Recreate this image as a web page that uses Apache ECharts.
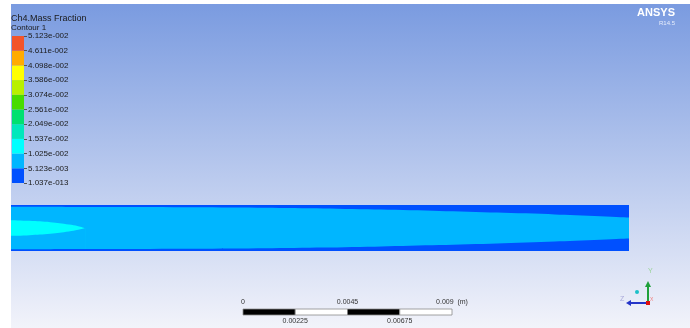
<!DOCTYPE html>
<html>
<head>
<meta charset="utf-8">
<script src="https://cdn.jsdelivr.net/npm/echarts@6/dist/echarts.min.js"></script>
<style>
html, body { margin: 0; padding: 0; background: #fff; }
#chart { width: 690px; height: 328px; }
</style>
</head>
<body>
<div id="chart"></div>
<script>
// channel size (m)
var channelLength = 0.0267;
var channelWidth = 0.002;

// dark blue layer along the walls: position / thickness (m)
var wallX = [0, 0.004, 0.008, 0.011, 0.0135, 0.016, 0.0185, 0.021, 0.0235, 0.0267];
var wallT = [0.00008, 0.00009, 0.0001, 0.00012, 0.00015, 0.0002, 0.00026, 0.00033, 0.00041, 0.00054];

// cyan jet core at the inlet: position / half width (m)
var coreX = [0, 0.0008, 0.0017, 0.0025, 0.0029, 0.0032];
var coreH = [0.00034, 0.00031, 0.00025, 0.00015, 0.00008, 0];

// contour levels, bottom to top
var levelLabels = ['1.037e-013', '5.123e-003', '1.025e-002', '1.537e-002', '2.049e-002', '2.561e-002',
	'3.074e-002', '3.586e-002', '4.098e-002', '4.611e-002', '5.123e-002'];
var levelColors = ['#0050ff', '#00b6ff', '#00ffff', '#00e8bc', '#00e070', '#48dc00',
	'#b8f000', '#ffff00', '#ffab00', '#f2542a'];

// scale bar (m)
var scaleSegs = [[0, 0.00225], [0.00225, 0.0045], [0.0045, 0.00675], [0.00675, 0.009]];
var scaleTopLabels = ['0', '0.0045', '0.009  (m)'];
var scaleBottomLabels = ['0.00225', '0.00675'];

var chart = echarts.init(document.getElementById('chart'));

var fontFamily = "'Liberation Sans', Arial, sans-serif";

/*通道面积层：后画的盖住先画的，都填到下壁面*/
function band(points, color, smooth) {
	return {
		type: 'line',
		xAxisIndex: 0, yAxisIndex: 0,
		data: points,
		symbol: 'none',
		smooth: smooth,
		lineStyle: { width: 0, opacity: 0 },
		areaStyle: { color: color, opacity: 1, origin: 'start' }
	}
}

var channelSeries = [
	// whole channel, dark blue
	band([[0, channelWidth], [channelLength, channelWidth]], levelColors[0], false),
	// light blue up to the top wall layer
	band(wallX.map(function (x, i) { return [x, channelWidth - wallT[i]] }), levelColors[1], 0.3),
	// cyan core, upper edge
	band(coreX.map(function (x, i) { return [x, channelWidth / 2 + coreH[i]] }), levelColors[2], 0.4),
	// light blue below the core
	band(coreX.map(function (x, i) { return [x, channelWidth / 2 - coreH[i]] }), levelColors[1], 0.4),
	// bottom wall layer, dark blue
	band(wallX.map(function (x, i) { return [x, wallT[i]] }), levelColors[0], 0.3)
];

/*色标*/
var legendSeries = levelColors.map(function (c) {
	return {
		type: 'bar',
		xAxisIndex: 1, yAxisIndex: 1,
		stack: 'levels',
		data: [1],
		barWidth: '100%',
		itemStyle: { color: c }
	}
});

/*比例尺*/
var scaleSeries = {
	type: 'custom',
	xAxisIndex: 2, yAxisIndex: 2,
	data: scaleSegs.map(function (s, i) { return [s[0], s[1], i] }),
	encode: { x: [0, 1] },
	renderItem: function (params, api) {
		var p0 = api.coord([api.value(0), 0]);
		var p1 = api.coord([api.value(1), 1]);
		var dark = api.value(2) % 2 === 0;
		return {
			type: 'rect',
			shape: { x: p0[0], y: p1[1], width: p1[0] - p0[0], height: p0[1] - p1[1] },
			style: { fill: dark ? '#000' : '#fff', stroke: '#8a8a8a', lineWidth: 0.8 }
		}
	}
};

chart.setOption({
	animation: false,
	textStyle: { fontFamily: fontFamily },
	title: {
		text: 'Ch4.Mass Fraction',
		subtext: 'Contour 1',
		left: 11,
		top: 14,
		padding: 0,
		itemGap: 1,
		textStyle: { fontSize: 9, fontWeight: 'normal', color: '#1a1a1a', fontFamily: fontFamily },
		subtextStyle: { fontSize: 8, color: '#1a1a1a', fontFamily: fontFamily }
	},
	grid: [
		{ left: 11, top: 205, width: 618, height: 46 },
		{ left: 12, top: 36, width: 12, height: 147 },
		{ left: 243, top: 309, width: 209, height: 6 }
	],
	xAxis: [
		{ gridIndex: 0, type: 'value', min: 0, max: channelLength, show: false },
		{ gridIndex: 1, type: 'category', data: [''], show: false },
		{
			gridIndex: 2, type: 'value', min: 0, max: 0.009, interval: 0.0045, position: 'top',
			axisLine: { show: false }, axisTick: { show: false }, splitLine: { show: false },
			axisLabel: {
				margin: 3, fontSize: 7, color: '#333',
				formatter: function (v, i) { return scaleTopLabels[i] }
			}
		},
		{
			gridIndex: 2, type: 'value', min: 0, max: 0.009, interval: 0.00225, position: 'bottom',
			axisLine: { show: false }, axisTick: { show: false }, splitLine: { show: false },
			axisLabel: {
				margin: 3, fontSize: 7, color: '#333',
				formatter: function (v, i) { return i % 2 ? scaleBottomLabels[(i - 1) / 2] : '' }
			}
		}
	],
	yAxis: [
		{ gridIndex: 0, type: 'value', min: 0, max: channelWidth, show: false },
		{
			gridIndex: 1, type: 'value', min: 0, max: 10, interval: 1, position: 'right',
			axisLine: { show: false },
			axisTick: { show: true, length: 3, lineStyle: { color: '#555' } },
			splitLine: { show: false },
			axisLabel: {
				margin: 4, fontSize: 8, color: '#1a1a1a',
				formatter: function (v) { return levelLabels[Math.round(v)] }
			}
		},
		{ gridIndex: 2, type: 'value', min: 0, max: 1, show: false }
	],
	graphic: [
		{
			type: 'rect', silent: true, z: -10,
			shape: { x: 11, y: 4, width: 679, height: 324 },
			style: {
				fill: new echarts.graphic.LinearGradient(0, 0, 0, 1, [
					{ offset: 0, color: '#7a9be0' },
					{ offset: 1, color: '#f2f3fa' }
				])
			}
		},
		{
			type: 'text', x: 675, y: 7,
			style: { text: 'ANSYS', fill: '#fff', font: 'bold 11px ' + fontFamily, align: 'right' }
		},
		{
			type: 'text', x: 675, y: 20,
			style: { text: 'R14.5', fill: '#e8eefc', font: '6px ' + fontFamily, align: 'right' }
		},
		/*坐标轴三角*/
		{ type: 'line', shape: { x1: 648, y1: 303, x2: 648, y2: 285 }, style: { stroke: '#1fa03a', lineWidth: 2 } },
		{ type: 'polygon', shape: { points: [[645, 287], [651, 287], [648, 281]] }, style: { fill: '#1fa03a' } },
		{ type: 'line', shape: { x1: 648, y1: 303, x2: 630, y2: 303 }, style: { stroke: '#2334c8', lineWidth: 2 } },
		{ type: 'polygon', shape: { points: [[631, 300], [631, 306], [626, 303]] }, style: { fill: '#2334c8' } },
		{ type: 'rect', shape: { x: 646, y: 301, width: 4, height: 4 }, style: { fill: '#e01010' } },
		{ type: 'circle', shape: { cx: 637, cy: 292, r: 2 }, style: { fill: '#1cc0c8' } },
		{ type: 'text', x: 648, y: 268, style: { text: 'Y', fill: '#9ad39a', font: '7px ' + fontFamily } },
		{ type: 'text', x: 620, y: 296, style: { text: 'Z', fill: '#a8a8da', font: '7px ' + fontFamily } },
		{ type: 'text', x: 650, y: 297, style: { text: 'X', fill: '#f08080', font: '5px ' + fontFamily } }
	],
	series: channelSeries.concat(legendSeries, [scaleSeries])
})
</script>
</body>
</html>
